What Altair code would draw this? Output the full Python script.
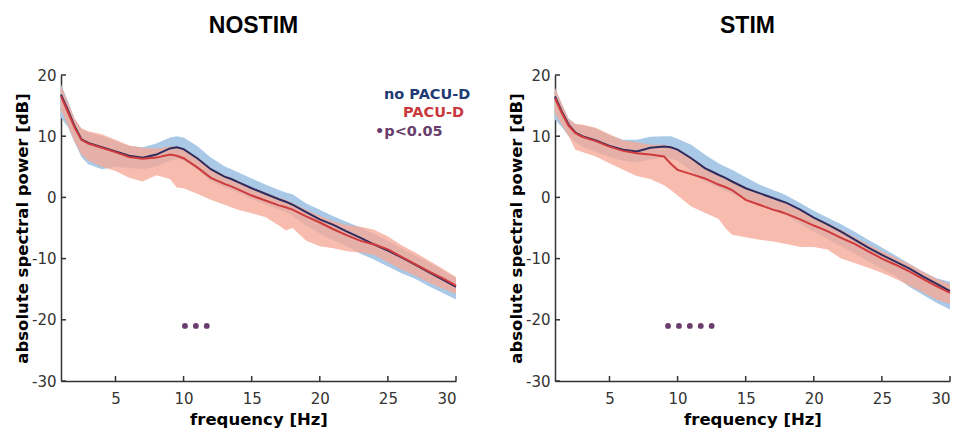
import altair as alt
import pandas as pd

# frequency grid (Hz)
freq = [1, 1.5, 2, 2.5, 3, 4, 5, 6, 7, 8, 9, 9.5, 10, 11, 12, 13, 13.5, 14, 15, 16,
        17, 17.5, 18, 19, 20, 21, 22, 23, 24, 25, 26, 27, 28, 29, 30]

# NOSTIM panel (dB)
nostim_nopacu_mean = [16.8, 14.3, 11.6, 9.5, 8.9, 8.2, 7.5, 6.8, 6.5, 7.0, 8.0, 8.2, 7.9, 6.4, 4.6, 3.4, 3.0, 2.5, 1.5, 0.6,
                      -0.3, -0.7, -1.2, -2.4, -3.6, -4.5, -5.6, -6.6, -7.7, -8.7, -9.8, -11.0, -12.2, -13.4, -14.6]
nostim_nopacu_upper = [18.5, 15.8, 12.8, 11.2, 10.6, 10.0, 9.2, 8.4, 8.2, 8.8, 9.8, 10.0, 9.8, 8.4, 6.5, 5.1, 4.6, 4.1, 3.1, 2.1,
                       1.2, 0.8, 0.5, -1.0, -2.0, -3.1, -4.0, -4.9, -6.0, -7.1, -8.3, -9.5, -10.6, -11.9, -13.2]
nostim_nopacu_lower = [13.0, 11.5, 9.0, 6.6, 5.4, 4.6, 5.0, 4.8, 4.6, 5.0, 6.0, 6.3, 6.0, 4.6, 2.7, 1.6, 1.2, 0.8, -0.3, -1.1,
                       -2.0, -2.4, -3.0, -4.6, -5.9, -7.0, -8.0, -9.2, -10.2, -11.3, -12.4, -13.3, -14.5, -15.6, -16.7]
nostim_pacu_mean = [16.5, 14.0, 11.4, 9.4, 8.8, 8.1, 7.4, 6.6, 6.3, 6.5, 7.0, 6.8, 6.4, 4.9, 3.2, 2.2, 1.8, 1.3, 0.3, -0.5,
                    -1.3, -1.6, -2.0, -3.1, -4.1, -5.2, -6.2, -7.1, -7.7, -8.5, -9.7, -10.9, -12.1, -13.2, -14.4]
nostim_pacu_upper = [18.2, 15.6, 12.9, 11.3, 10.8, 10.3, 9.4, 8.5, 8.1, 8.0, 8.3, 8.3, 8.0, 6.6, 4.8, 3.6, 3.2, 2.7, 1.6, 0.8,
                     0.0, -0.4, -0.9, -2.0, -3.0, -3.9, -4.5, -4.8, -5.3, -6.4, -7.8, -9.0, -10.3, -11.6, -13.0]
nostim_pacu_lower = [14.3, 11.8, 9.1, 7.0, 6.0, 5.0, 4.3, 3.2, 2.6, 3.6, 3.0, 1.6, 1.5, 0.6, -0.4, -1.2, -1.6, -2.0, -2.6, -3.2,
                     -4.6, -5.4, -5.0, -7.1, -8.0, -8.3, -8.8, -9.0, -9.4, -10.6, -11.8, -12.8, -13.9, -14.9, -15.8]
nostim_sig_freq = [10.1, 10.9, 11.7]

# STIM panel (dB)
stim_nopacu_mean = [16.5, 14.0, 11.9, 10.6, 10.0, 9.3, 8.4, 7.8, 7.5, 8.1, 8.3, 8.2, 7.8, 6.4, 4.8, 3.7, 3.2, 2.6, 1.5, 0.7,
                    -0.1, -0.5, -0.9, -2.0, -3.3, -4.4, -5.6, -6.9, -8.2, -9.4, -10.5, -11.6, -12.9, -14.1, -15.3]
stim_nopacu_upper = [17.8, 15.3, 12.9, 12.0, 11.8, 11.2, 10.2, 9.4, 9.4, 9.9, 10.0, 10.0, 9.6, 8.6, 7.0, 5.6, 5.0, 4.5, 3.3, 2.1,
                     1.2, 0.8, 0.3, -0.9, -2.2, -3.3, -4.4, -5.6, -6.9, -8.2, -9.5, -10.8, -12.1, -13.2, -13.8]
stim_nopacu_lower = [12.7, 11.5, 10.0, 9.0, 8.3, 7.4, 6.6, 6.0, 5.7, 6.2, 6.5, 6.3, 6.0, 4.3, 2.6, 1.6, 1.1, 0.6, -0.5, -1.3,
                     -2.2, -2.6, -3.0, -4.3, -5.6, -6.8, -8.0, -9.2, -10.5, -11.7, -12.9, -14.6, -15.9, -17.2, -18.3]
stim_pacu_mean = [16.2, 13.8, 11.7, 10.5, 9.9, 9.2, 8.3, 7.6, 7.2, 7.0, 6.7, 5.5, 4.5, 3.8, 3.1, 2.1, 1.7, 1.2, -0.4, -1.2,
                  -2.0, -2.3, -2.7, -3.6, -4.6, -5.5, -6.6, -7.6, -8.8, -10.0, -11.0, -12.1, -13.3, -14.5, -15.6]
stim_pacu_upper = [17.9, 15.3, 12.8, 12.0, 11.9, 11.4, 10.3, 9.3, 9.0, 8.6, 8.6, 8.4, 7.9, 6.6, 5.0, 3.8, 3.3, 2.8, 1.7, 0.8,
                   0.0, -0.4, -0.8, -1.9, -3.2, -4.2, -5.3, -6.5, -7.7, -8.8, -9.8, -10.9, -12.1, -13.3, -14.2]
stim_pacu_lower = [13.8, 11.8, 10.0, 7.8, 7.4, 6.7, 5.6, 4.5, 3.5, 3.0, 2.0, 1.2, 0.3, -1.5, -2.5, -3.5, -5.0, -6.1, -6.5, -6.9,
                   -7.2, -7.4, -7.6, -8.1, -8.1, -8.5, -10.0, -10.7, -11.5, -12.3, -13.3, -14.4, -15.5, -16.7, -17.4]
stim_sig_freq = [9.3, 10.1, 10.9, 11.7, 12.5]

sig_level = -21
x_ticks = [5, 10, 15, 20, 25, 30]
y_ticks = [20, 10, 0, -10, -20, -30]
legend_labels = ["no PACU-D", "PACU-D", "\u2022p<0.05"]

W, H = 395, 306
AXIS_COLOR = "#333333"
BLUE_FILL = "#a9c9e6"
RED_FILL = "#f5a996"
BLUE_LINE = "#2c2c5e"
RED_LINE = "#cf3a3c"
SIG_COLOR = "#6a3d6e"


def X(field):
    return alt.X(field + ":Q",
                 scale=alt.Scale(domain=[1, 30], nice=False, zero=False),
                 axis=alt.Axis(values=x_ticks, title="frequency [Hz]", ticks=False,
                               labelPadding=10, titlePadding=5))


def Y(field):
    return alt.Y(field + ":Q",
                 scale=alt.Scale(domain=[-30, 20], nice=False, zero=False),
                 axis=alt.Axis(values=y_ticks, title="absolute spectral power [dB]", ticks=False,
                               labelPadding=5, titlePadding=1, labelExpr="'' + datum.value"))


def panel(title, bm, bu, bl, rm, ru, rl, sig, legend):
    df = pd.DataFrame({"f": freq, "bm": bm, "bu": bu, "bl": bl, "rm": rm, "ru": ru, "rl": rl})
    base = alt.Chart(df)
    blue_band = base.mark_area(color=BLUE_FILL, opacity=1).encode(x=X("f"), y=Y("bl"), y2="bu:Q")
    red_band = base.mark_area(color=RED_FILL, opacity=0.78).encode(x=X("f"), y=Y("rl"), y2="ru:Q")
    blue_line = base.mark_line(color=BLUE_LINE, strokeWidth=2).encode(x=X("f"), y=Y("bm"))
    red_line = base.mark_line(color=RED_LINE, strokeWidth=2).encode(x=X("f"), y=Y("rm"))
    sdf = pd.DataFrame({"f": sig, "p": [sig_level] * len(sig)})
    dots = alt.Chart(sdf).mark_circle(color=SIG_COLOR, size=34, opacity=1).encode(x=X("f"), y=Y("p"))
    xt = alt.Chart(pd.DataFrame({"f": x_ticks})).mark_rule(color=AXIS_COLOR, strokeWidth=1.5).encode(
        x=X("f"), y=alt.value(H), y2=alt.value(H - 5))
    yt = alt.Chart(pd.DataFrame({"v": y_ticks})).mark_rule(color=AXIS_COLOR, strokeWidth=1.5).encode(
        y=Y("v"), x=alt.value(0), x2=alt.value(5))
    layers = [blue_band, red_band, blue_line, red_line, dots, xt, yt]
    if legend:
        one = pd.DataFrame({"k": [0]})
        lf = dict(font="DejaVu Sans", fontWeight="bold", fontSize=14.5, align="left", baseline="middle")
        layers += [
            alt.Chart(one).mark_text(color="#1f3b73", **lf).encode(
                x=alt.value(323), y=alt.value(20), text=alt.value(legend_labels[0])),
            alt.Chart(one).mark_text(color="#c9383a", **lf).encode(
                x=alt.value(342), y=alt.value(38), text=alt.value(legend_labels[1])),
            alt.Chart(one).mark_text(color=SIG_COLOR, **lf).encode(
                x=alt.value(314), y=alt.value(57), text=alt.value(legend_labels[2])),
        ]
    return alt.layer(*layers).properties(
        width=W, height=H,
        title=alt.TitleParams(title, font="Liberation Sans", fontSize=23, fontWeight="bold",
                              anchor="middle", offset=30, dx=-5, color="black"))


left = panel("NOSTIM", nostim_nopacu_mean, nostim_nopacu_upper, nostim_nopacu_lower,
             nostim_pacu_mean, nostim_pacu_upper, nostim_pacu_lower, nostim_sig_freq, True)
right = panel("STIM", stim_nopacu_mean, stim_nopacu_upper, stim_nopacu_lower,
              stim_pacu_mean, stim_pacu_upper, stim_pacu_lower, stim_sig_freq, False)

chart = alt.hconcat(left, right, spacing=37).properties(
    padding={"left": 6, "top": 7, "right": 0, "bottom": 0}
).configure_view(stroke=None).configure_axis(
    grid=False, domainColor=AXIS_COLOR, domainWidth=1.5,
    labelColor="#333333", labelFont="DejaVu Sans", labelFontSize=15,
    titleFont="DejaVu Sans", titleFontWeight="bold", titleFontSize=16.5, titleColor="black"
)

chart.save("out.html", embed_options={"renderer": "svg", "actions": False})
